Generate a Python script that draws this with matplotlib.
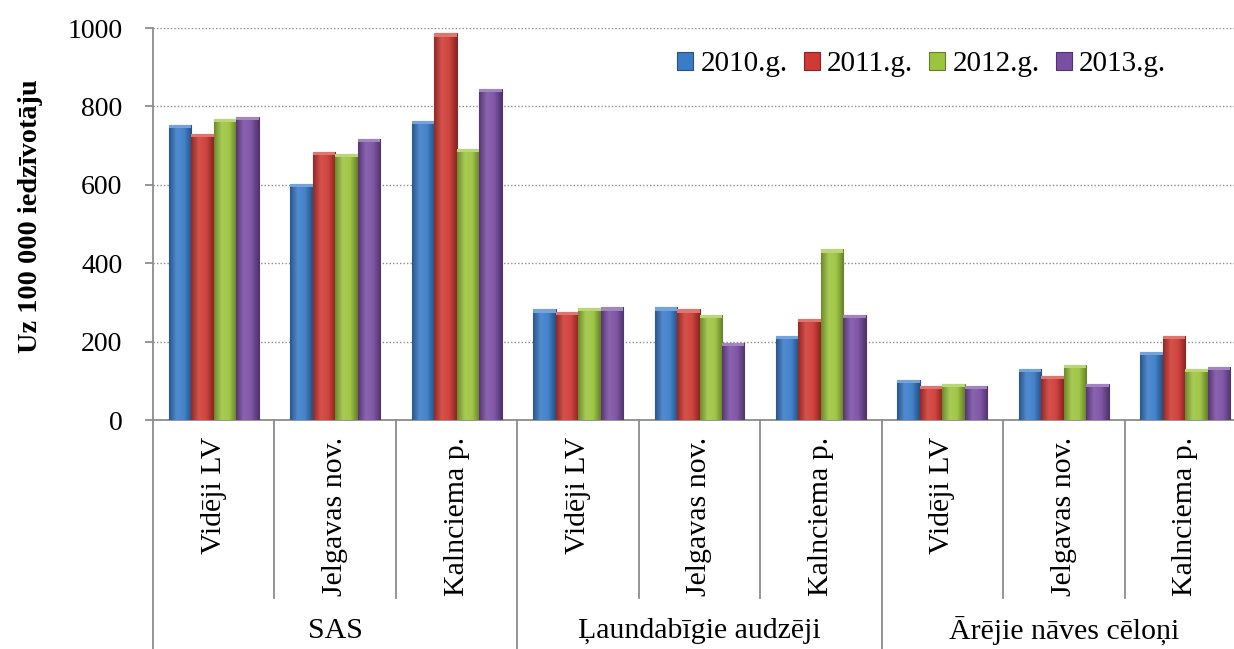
import numpy as np
import matplotlib
matplotlib.use("Agg")
import matplotlib.pyplot as plt
from matplotlib import transforms
from matplotlib.colors import LinearSegmentedColormap, to_rgb

plt.rcParams['font.family'] = ['Liberation Serif', 'DejaVu Serif']

groups = ["SAS", "Ļaundabīgie audzēji", "Ārējie nāves cēloņi"]
subcats = ["Vidēji LV", "Jelgavas nov.", "Kalnciema p."]
series = ["2010.g.", "2011.g.", "2012.g.", "2013.g."]
v2010 = [753, 603, 763, 282, 287, 214, 103, 131, 174]
v2011 = [729, 684, 986, 276, 282, 258, 88, 113, 215]
v2012 = [768, 678, 691, 285, 268, 435, 93, 140, 131]
v2013 = [773, 718, 845, 287, 197, 268, 88, 93, 136]
values = [v2010, v2011, v2012, v2013]
colors = ["#3a7cc8", "#cf3a34", "#9cc43e", "#7a4fa3"]
ylabel = "Uz 100 000 iedzīvotāju"

W, H = 1234, 649
fig = plt.figure(figsize=(W / 100, H / 100), dpi=100)
ax_left, ax_right, ax_bottom, ax_top = 153, 1246, 420, 28
ax = fig.add_axes([ax_left / W, (H - ax_bottom) / H,
                   (ax_right - ax_left) / W, (ax_bottom - ax_top) / H])

n = len(v2010)
x = np.arange(n)
bw = 0.185
offsets = (np.arange(4) - 1.5) * bw

def shade(c, f):
    r = np.array(to_rgb(c))
    if f >= 0:
        return tuple(r + (1 - r) * f)
    return tuple(r * (1 + f))

for i, (vals, col) in enumerate(zip(values, colors)):
    bars = ax.bar(x + offsets[i], vals, width=bw, color=col,
                  edgecolor=shade(col, -0.35), linewidth=0.8, label=series[i], zorder=3)
    cmap = LinearSegmentedColormap.from_list(
        "g", [shade(col, -0.3), shade(col, 0.12), shade(col, 0.05), shade(col, -0.35)])
    grad = np.linspace(0, 1, 64).reshape(1, -1)
    for b in bars:
        bx, by = b.get_x(), b.get_y()
        bwid, bh = b.get_width(), b.get_height()
        im = ax.imshow(grad, cmap=cmap, aspect='auto',
                       extent=(bx, bx + bwid, by, by + bh), zorder=3.5,
                       interpolation='bicubic')
        im.set_clip_path(b)
        ax.bar(bx + bwid / 2, 8, bottom=by + bh - 8, width=bwid,
               color=shade(col, 0.3), linewidth=0, zorder=3.6)

ax.set_xlim(-0.5, n - 0.5)
ax.set_ylim(0, 1000)
ax.set_yticks(np.arange(0, 1001, 200))
ax.yaxis.grid(True, linestyle=(0, (1, 1.5)), color="#8c8c8c", linewidth=1.0, zorder=0)
ax.set_axisbelow(True)
for s in ["top", "right"]:
    ax.spines[s].set_visible(False)
for s in ["left", "bottom"]:
    ax.spines[s].set_color("#8c8c8c")
    ax.spines[s].set_linewidth(1.3)
ax.tick_params(axis='y', length=6, width=1.3, color="#8c8c8c", pad=16, labelsize=20)
ax.set_xticks(x)
ax.set_xticklabels(subcats * 3, rotation=90, fontsize=21.5)
ax.tick_params(axis='x', length=0, pad=12)

ax.set_ylabel(ylabel, fontsize=20.3, fontweight='bold')
ax.yaxis.set_label_coords((43 - ax_left) / (ax_right - ax_left),
                          (ax_bottom - 216) / (ax_bottom - ax_top))

trans = transforms.blended_transform_factory(ax.transData, ax.transAxes)
inner_end = -(598 - ax_bottom) / (ax_bottom - ax_top)
outer_end = -(H - ax_bottom) / (ax_bottom - ax_top)
for k in range(n + 1):
    xb = k - 0.5
    y1 = outer_end if k % 3 == 0 else inner_end
    ax.plot([xb, xb], [0, y1], color="#8c8c8c", linewidth=1.3,
            transform=trans, clip_on=False)
glabel_y = -(631 - ax_bottom) / (ax_bottom - ax_top)
for g, name in enumerate(groups):
    ax.text(3 * g + 1, glabel_y, name, transform=trans, ha='center', va='center',
            fontsize=21.5)

ax.legend(loc='center left', bbox_to_anchor=((677 - ax_left) / (ax_right - ax_left),
                                             (ax_bottom - 64) / (ax_bottom - ax_top)),
          ncol=4, frameon=False, fontsize=21, handlelength=0.55, handleheight=0.57,
          handletextpad=0.25, columnspacing=0.55, borderaxespad=0, borderpad=0)

fig.savefig("out.png", dpi=100)
